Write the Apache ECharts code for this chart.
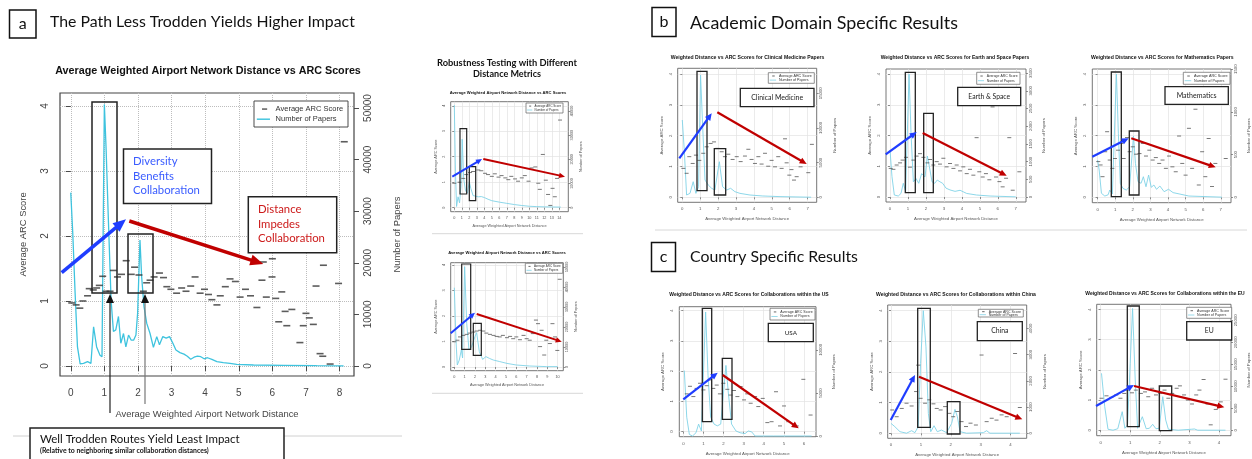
<!DOCTYPE html>
<html><head><meta charset="utf-8">
<script src="https://cdn.jsdelivr.net/npm/echarts@6/dist/echarts.min.js"></script>
<style>html,body{margin:0;padding:0;background:#fff}#c{width:1252px;height:459px}</style>
</head><body><div id="c"></div>
<script>
// ---------------- DATA ----------------
// Panel a (main chart)
const mainArcDist = [0.03,0.16,0.27,0.36,0.5,0.55,0.67,0.77,0.85,0.95,1.05,1.17,1.27,1.39,1.51,1.65,1.8,1.9,2.03,2.16,2.26,2.36,2.48,2.64,2.76,2.86,2.98,3.15,3.3,3.43,3.57,3.7,3.85,3.98,4.1,4.2,4.35,4.45,4.6,4.74,4.9,5.04,5.2,5.35,5.54,5.69,5.73,5.82,5.99,6.0,6.1,6.19,6.28,6.38,6.43,6.58,6.82,6.92,7.0,7.1,7.22,7.3,7.42,7.5,7.52,7.72,7.97,8.14];
const mainArcScore = [0.97,0.94,0.89,1.0,1.08,1.19,1.17,1.2,1.24,1.38,1.15,1.15,1.47,1.37,1.41,1.62,1.41,1.52,1.4,1.15,1.28,1.32,1.37,1.43,1.36,1.22,1.18,1.12,1.2,1.15,1.23,1.37,1.12,1.18,1.1,1.02,0.94,1.08,1.22,1.34,1.3,1.06,1.18,1.08,0.9,1.32,1.6,1.06,1.37,1.65,1.04,0.68,1.14,0.84,0.62,0.87,0.36,0.62,0.81,0.74,0.64,1.23,0.19,0.15,1.55,0.03,1.27,3.45];
const mainPapDist = [0,0.06,0.13,0.2,0.28,0.38,0.5,0.6,0.68,0.77,0.87,0.93,1.0,1.05,1.12,1.2,1.27,1.34,1.42,1.49,1.57,1.64,1.72,1.8,1.87,1.94,1.99,2.06,2.11,2.18,2.26,2.36,2.46,2.56,2.64,2.74,2.84,2.94,3.04,3.13,3.25,3.37,3.47,3.57,3.67,3.77,3.87,3.97,4.07,4.2,4.35,4.54,4.74,4.94,5.44,6.33,7.32,8.12];
const mainPapCount = [33600,25700,14100,3700,400,500,840,500,7600,3700,2100,1800,50700,42500,28300,12800,6700,7000,9600,4400,6300,3700,6000,5000,5000,6000,10200,24400,17300,11500,8300,6300,3600,5700,4100,5700,5400,5700,4400,3100,2600,2300,1900,1300,1700,1900,1800,1400,1600,1300,840,650,520,320,190,130,60,20];

// Robustness (top)
const rtArcDist = [0,0.7,1.2,1.6,2.1,2.5,3.2,3.6,4.1,4.5,5.0,5.4,5.9,6.3,6.8,7.2,7.6,8.1,8.5,9.0,9.4,9.9,10.3,10.8,11.2,11.4,11.8,12.2,12.5,12.8,13.1,13.4,13.7,14.1];
const rtArcScore = [0.96,1.0,1.15,1.3,1.38,1.42,1.48,1.45,1.35,1.3,1.23,1.33,1.2,1.26,1.17,1.1,1.23,1.13,1.04,1.17,1.26,1.04,1.56,1.6,0.96,0.72,2.09,1.08,0.52,0.09,0.76,0.43,1.15,3.44];
const rtPapDist = [0,0.15,0.3,0.5,0.7,0.9,1.05,1.25,1.5,1.75,2.0,2.2,2.5,2.8,3.2,3.6,4.0,4.5,5.0,6.0,7.0,8.0,9.0,10.0,11.0,12.0,13.0,14.2];
const rtPapCount = [42400,15000,500,4500,2000,9000,28300,12000,7000,6000,10700,8000,5000,4800,4500,4600,4200,3500,2900,2300,1800,1300,900,600,450,350,300,250];

// Robustness (bottom)
const rbArcDist = [0,0.3,0.55,0.87,1.2,1.5,1.84,2.16,2.5,2.8,3.1,3.45,3.8,4.1,4.4,4.7,5.1,5.4,5.7,6.0,6.35,6.7,7.0,7.3,7.6,7.9,8.1,8.3,8.45,8.7,8.9,9.25,9.5,9.75,9.97,10.2];
const rbArcScore = [0.99,1.05,1.18,1.24,1.28,1.33,1.37,1.41,1.44,1.41,1.33,1.28,1.24,1.2,1.18,1.24,1.15,1.2,1.11,1.18,1.07,1.24,1.11,1.05,1.31,1.84,1.7,0.8,1.44,0.47,1.05,0.92,1.7,1.18,0.65,3.44];
const rbPapDist = [0,0.16,0.29,0.48,0.68,0.8,1.0,1.2,1.42,1.68,2.0,2.16,2.42,2.74,3.06,3.4,3.77,4.4,5.1,6.0,7.3,8.9,10.0];
const rbPapCount = [39650,13500,1000,3500,8500,4500,50150,21800,8500,10200,15200,17200,7700,3800,5200,4300,3500,2700,1800,1000,500,200,200];

// b: Clinical Medicine
const cmArcDist = [0.06,0.24,0.39,0.58,0.76,0.95,1.17,1.36,1.58,1.77,1.96,2.2,2.38,2.57,2.81,3.04,3.26,3.5,3.69,3.87,4.06,4.25,4.43,4.62,4.8,4.99,5.18,5.36,5.55,5.74,5.83,5.98,6.1,6.24,6.39,6.61,7.04,7.24];
const cmArcScore = [0.94,0.78,1.32,1.1,1.37,1.2,1.43,1.64,1.75,1.8,1.59,1.48,1.32,1.4,1.23,1.32,1.16,1.34,1.56,1.23,1.1,1.32,1.08,1.43,1.01,1.2,0.99,1.32,0.94,1.9,1.12,0.72,0.9,0.56,0.67,0.99,0.8,1.72];
const cmPapDist = [0,0.11,0.24,0.43,0.61,0.76,0.91,1.02,1.14,1.27,1.45,1.64,1.82,2.07,2.25,2.48,2.7,2.94,3.22,3.78,4.5,5.46,7.2];
const cmPapCount = [11140,6800,330,570,2250,570,1530,17600,10170,2490,1770,1300,1050,5130,1530,1050,1300,810,570,330,190,100,10];

// b: Earth & Space
const esArcDist = [0.04,0.19,0.37,0.56,0.7,0.89,1.11,1.3,1.48,1.67,1.86,2.08,2.23,2.41,2.6,2.78,2.97,3.15,3.34,3.53,3.71,3.9,4.08,4.27,4.45,4.64,4.82,4.97,5.16,5.34,5.53,5.71,5.9,6.09,6.27,6.46,6.64,6.83,7.2];
const esArcScore = [0.93,0.9,1.04,1.11,1.2,1.29,0.97,1.2,1.33,1.41,1.29,1.11,1.22,1.04,1.15,1.07,1.26,0.98,1.09,0.93,1.04,0.85,0.98,0.76,0.9,0.71,1.93,0.82,0.65,0.76,0.56,2.93,0.65,0.5,0.33,0.61,1.93,0.22,0.82];
const esPapDist = [0,0.11,0.24,0.46,0.61,0.74,0.87,1.06,1.17,1.3,1.45,1.6,1.76,1.95,2.08,2.19,2.34,2.49,2.63,2.78,2.93,3.12,3.34,3.62,3.9,4.27,4.82,5.57,7.0];
const esPapCount = [1330,575,56,28,100,387,160,3474,1800,430,520,387,660,570,1158,860,430,387,480,430,387,250,200,160,190,100,56,28,5];

// b: Mathematics
const maArcDist = [0.04,0.17,0.28,0.43,0.54,0.69,0.84,0.99,1.16,1.35,1.48,1.67,1.82,2.0,2.19,2.38,2.57,2.75,2.94,3.13,3.31,3.5,3.69,3.88,4.06,4.25,4.44,4.63,4.81,5.0,5.19,5.37,5.56,5.75,5.94,6.12,6.31,6.5,6.69,7.28];
const maArcScore = [1.16,1.05,0.67,1.48,2.13,1.21,0.94,1.26,1.53,1.75,1.26,1.94,1.48,1.64,1.4,1.42,1.75,1.34,1.53,1.21,1.29,1.1,1.21,0.94,1.34,0.99,0.83,1.99,1.1,0.72,2.24,0.94,2.86,0.4,1.48,0.67,1.91,0.35,1.1,1.26];
const maPapDist = [0,0.09,0.22,0.41,0.6,0.69,0.84,1.07,1.18,1.29,1.44,1.63,1.82,2.04,2.15,2.3,2.47,2.6,2.75,2.9,3.05,3.2,3.35,3.54,3.78,4.03,4.29,4.63,5.19,7.06];
const maPapCount = [437,320,47,15,30,85,40,1444,750,164,105,85,124,718,398,183,164,241,124,261,117,144,94,132,66,94,55,40,15,2];

// c: USA
const usArcDist = [0.17,0.33,0.5,0.66,0.83,1.0,1.16,1.33,1.49,1.66,1.82,1.99,2.19,2.35,2.52,2.69,2.85,3.02,3.18,3.35,3.57,3.73,3.95,4.18,4.39,4.61,4.81,5.01,5.22,5.64,5.97,6.33];
const usArcScore = [1.25,1.5,1.16,1.43,1.6,1.38,1.52,1.71,1.43,1.54,1.25,1.6,1.4,1.21,1.36,1.16,1.49,1.05,1.25,0.94,1.16,0.83,1.1,0.3,0.33,1.32,0.19,0.85,0.33,0.19,1.73,0.55];
const usPapDist = [0.05,0.17,0.3,0.46,0.63,0.76,0.9,1.11,1.23,1.36,1.53,1.69,1.86,2.12,2.24,2.4,2.62,2.82,3.07,3.23,3.4,3.57,4.48,6.38];
const usPapCount = [7600,2200,200,20,400,1400,600,14390,7000,2200,1400,1200,1400,8200,5000,1400,600,400,300,600,500,20,20,20];

// c: China
const cnArcDist = [0.04,0.19,0.36,0.52,0.69,0.84,0.91,0.99,1.14,1.28,1.42,1.53,1.66,1.81,1.95,2.08,2.22,2.36,2.51,2.66,2.84,3.03,3.2,3.37,3.53,3.7,3.87,4.15,4.31];
const cnArcScore = [0.76,0.54,0.81,0.98,0.89,1.36,2.22,1.14,0.98,1.09,0.96,0.81,0.76,0.87,0.65,0.54,0.71,0.38,0.22,0.33,0.27,2.55,0.38,0.49,0.43,0.6,0.54,2.6,0.84];
const cnPapDist = [0,0.13,0.3,0.52,0.69,0.8,0.91,0.99,1.08,1.17,1.25,1.33,1.44,1.55,1.69,1.86,2.03,2.14,2.22,2.31,2.53,3.09,3.2,3.31,4.31];
const cnPapCount = [380,253,62,5,100,25,253,2670,4680,3300,760,62,290,62,125,25,380,915,636,62,5,25,100,5,5];

// c: EU
const euArcDist = [0.03,0.2,0.36,0.53,0.67,0.8,0.91,1.06,1.19,1.36,1.5,1.61,1.74,1.87,2.02,2.16,2.29,2.42,2.57,2.68,2.82,2.95,3.09,3.23,3.34,3.48,3.61,3.72,3.89,4.06,4.22];
const euArcScore = [1.06,1.14,1.09,1.17,1.06,1.22,1.33,1.24,1.33,1.22,1.27,1.11,1.39,1.17,1.22,1.33,1.06,1.22,1.39,1.47,1.17,1.0,0.87,1.17,1.33,1.68,0.87,0.18,0.69,0.94,1.69];
const euPapDist = [0.03,0.14,0.25,0.42,0.58,0.73,0.82,0.91,1.0,1.08,1.17,1.25,1.41,1.54,1.65,1.76,1.87,1.98,2.1,2.2,2.29,2.62,3.06,3.17,3.28,4.22];
const euPapCount = [12950,5360,230,20,350,4230,460,1200,15200,27700,11430,460,3090,350,460,1360,350,460,7640,2340,230,20,230,300,20,20];

// Tick labels
const ticks0to4 = [0,1,2,3,4];
const ticks0to6 = [0,1,2,3,4,5,6];
const ticks0to7 = [0,1,2,3,4,5,6,7];
const ticks0to8 = [0,1,2,3,4,5,6,7,8];
const ticks0to10 = [0,1,2,3,4,5,6,7,8,9,10];
const ticks0to14 = [0,1,2,3,4,5,6,7,8,9,10,11,12,13,14];
const papTicksMain = [0,10000,20000,30000,40000,50000];
const papTicksRT = [0,10000,20000,30000,40000];
const papTicksRB = [0,10000,20000,30000,40000,50000];
const papTicksCM = [0,5000,10000,15000];
const papTicksES = [0,500,1000,1500,2000,2500,3000,3500];
const papTicksMA = [0,500,1000,1500];
const papTicksUS = [0,5000,10000];
const papTicksCN = [0,1000,2000,3000,4000];
const papTicksEU = [0,5000,10000,15000,20000,25000];

// ---------------- BUILD ----------------
const RF = '"Liberation Sans", Arial, sans-serif';
const CF = 'Lato, "Open Sans", sans-serif';
const mctx = document.createElement('canvas').getContext('2d');
function fit(text, fam, weight, w) { mctx.font = weight + ' 100px ' + fam; return 100 * w / mctx.measureText(text).width; }
const zip = (a, b) => a.map((v, i) => [v, b[i]]);
const plain = (v) => String(v);

const grids = [], xAxes = [], yAxes = [], series = [], graphics = [];
function addPlot(p) {
  const gi = grids.length;
  const [l, t, r, b] = p.box;
  grids.push({ left: l, top: t, width: r - l, height: b - t, show: true, borderColor: p.frame, borderWidth: p.frameW, backgroundColor: 'rgba(0,0,0,0)' });
  const lab = (extra) => Object.assign({ fontSize: p.fs, color: p.txt, fontFamily: RF }, extra);
  xAxes.push({
    type: 'value', gridIndex: gi, min: p.x[0], max: p.x[1], interval: 1,
    axisLine: { show: false },
    axisTick: { show: true, length: p.tick, customValues: p.xT, lineStyle: { color: p.frame, width: p.frameW * 0.8 } },
    axisLabel: lab({ customValues: p.xT, margin: p.xm, formatter: plain }),
    splitLine: { show: true, lineStyle: { color: p.gc, type: p.gt, width: p.gw } },
    name: 'Average Weighted Airport Network Distance', nameLocation: 'middle', nameGap: p.xg,
    nameTextStyle: lab({ fontSize: p.nfs })
  });
  yAxes.push({
    type: 'value', gridIndex: gi, position: 'left', min: p.y[0], max: p.y[1], interval: 1,
    axisLine: { show: false },
    axisTick: { show: true, length: p.tick, customValues: ticks0to4, lineStyle: { color: p.frame, width: p.frameW * 0.8 } },
    axisLabel: lab({ customValues: ticks0to4, rotate: 90, margin: p.ym, formatter: plain }),
    splitLine: { show: true, lineStyle: { color: p.gc, type: p.gt, width: p.gw } },
    name: 'Average ARC Score', nameLocation: 'middle', nameRotate: 90, nameGap: p.yg,
    nameTextStyle: lab({ fontSize: p.nfs })
  });
  yAxes.push({
    type: 'value', gridIndex: gi, position: 'right', min: p.y2[0], max: p.y2[1], interval: p.y2T[1],
    axisLine: { show: false },
    axisTick: { show: true, length: p.tick, customValues: p.y2T, lineStyle: { color: p.frame, width: p.frameW * 0.8 } },
    axisLabel: lab({ customValues: p.y2T, rotate: 90, margin: p.y2m, formatter: plain }),
    splitLine: { show: false },
    name: 'Number of Papers', nameLocation: 'middle', nameRotate: 90, nameGap: p.y2g,
    nameTextStyle: lab({ fontSize: p.nfs })
  });
  series.push({
    type: 'line', xAxisIndex: gi, yAxisIndex: 2 * gi + 1, data: zip(p.pd, p.pc), showSymbol: false, symbol: 'none',
    lineStyle: { color: p.lc, width: p.lw }, silent: true, z: 2, animation: false
  });
  series.push({
    type: 'scatter', xAxisIndex: gi, yAxisIndex: 2 * gi, data: zip(p.ad, p.as), symbol: 'rect', symbolSize: p.dash,
    itemStyle: { color: p.dc }, silent: true, z: 3, animation: false
  });
  txt(p.title[1], p.title[2], p.title[0], { fam: RF, weight: 'bold', w: p.title[3], align: 'center', color: '#111' });
  const [lx1, ly1, lx2, ly2] = p.leg;
  rect(lx1, ly1, lx2 - lx1, ly2 - ly1, '#fff', p.frame, p.frameW * 0.8, 100);
  const h = ly2 - ly1, row1 = ly1 + h * 0.31, row2 = ly1 + h * 0.7, tw = (lx2 - lx1);
  const lfs = fit('Average ARC Score', RF, 'normal', tw * 0.72);
  line(lx1 + tw * 0.085, row1, lx1 + tw * 0.14, row1, '#444', Math.max(0.8, h * 0.05), 101);
  line(lx1 + tw * 0.03, row2, lx1 + tw * 0.17, row2, p.lc, Math.max(0.8, h * 0.055), 101);
  txtS(lx1 + tw * 0.23, row1, 'Average ARC Score', lfs, RF, 'normal', '#333', 'left');
  txtS(lx1 + tw * 0.23, row2, 'Number of Papers', lfs, RF, 'normal', '#333', 'left');
  return gi;
}
function rect(x, y, w, h, fill, stroke, lw, z) {
  graphics.push({ type: 'rect', z: z || 100, shape: { x, y, width: w, height: h }, style: { fill: fill, stroke: stroke, lineWidth: lw } });
}
function line(x1, y1, x2, y2, color, w, z) {
  graphics.push({ type: 'line', z: z || 100, shape: { x1, y1, x2, y2 }, style: { stroke: color, lineWidth: w } });
}
function arrow(x1, y1, x2, y2, color, w, hl, hw) {
  const dx = x2 - x1, dy = y2 - y1, L = Math.hypot(dx, dy), ux = dx / L, uy = dy / L;
  const bx = x2 - ux * hl, by = y2 - uy * hl;
  line(x1, y1, bx + ux * 1, by + uy * 1, color, w, 110);
  graphics.push({ type: 'polygon', z: 111, shape: { points: [[x2, y2], [bx - uy * hw / 2, by + ux * hw / 2], [bx + uy * hw / 2, by - ux * hw / 2]] }, style: { fill: color } });
}
function txtS(x, y, text, size, fam, weight, color, align) {
  graphics.push({ type: 'text', z: 120, x, y, style: { text, fontSize: size, fontFamily: fam, fontWeight: weight, fill: color, align: align, textAlign: align, verticalAlign: 'middle', textVerticalAlign: 'middle' } });
}
function txt(x, y, text, o) {
  const size = o.size || fit(text, o.fam, o.weight || 'normal', o.w);
  txtS(x, y, text, size, o.fam, o.weight || 'normal', o.color || '#111', o.align || 'left');
  return size;
}
function labelBox(x1, y1, x2, y2, text, tw) {
  rect(x1, y1, x2 - x1, y2 - y1, '#fff', '#222', 1.3, 105);
  txt((x1 + x2) / 2, (y1 + y2) / 2, text, { fam: CF, w: tw, align: 'center', color: '#222' });
}
function box(x1, y1, x2, y2, lw) { rect(x1, y1, x2 - x1, y2 - y1, 'rgba(0,0,0,0)', '#222', lw || 1.3, 104); }

// ---- plots ----
const MAIN = {
  box: [60, 93, 354, 376], x: [-0.32, 8.43], xT: ticks0to8, y: [-0.154, 4.2], y2: [-1938, 52907], y2T: papTicksMain,
  fs: 10, nfs: 9.4, txt: '#444', tick: 5, xm: 12, ym: 10, y2m: 9, xg: 34, yg: 32, y2g: 39,
  frame: '#444', frameW: 1.2, gc: '#bdbdbd', gt: 'dotted', gw: 1,
  pd: mainPapDist, pc: mainPapCount, ad: mainArcDist, as: mainArcScore, dash: [7, 1.6], dc: '#333', lc: '#3ec3de', lw: 1.3,
  title: ['Average Weighted Airport Network Distance vs ARC Scores', 208, 71, 306], leg: [254, 101, 348, 127]
};
function small(o) {
  return Object.assign({
    fs: 4.3, nfs: 4.3, txt: '#555', tick: 2, xm: 5, ym: 5, y2m: 2.5, xg: 15, yg: 14, y2g: 16,
    frame: '#666', frameW: 0.9, gc: '#e2e2e2', gt: 'solid', gw: 0.7, dash: [4, 1], dc: '#555', lc: '#80d2e6', lw: 0.9
  }, o);
}
const PLOTS = [
  MAIN,
  small({ box: [450.7, 101.7, 568.3, 211.7], x: [-0.48, 15.2], xT: ticks0to14, y: [-0.157, 4.16], y2: [-1650, 43800], y2T: papTicksRT,
    pd: rtPapDist, pc: rtPapCount, ad: rtArcDist, as: rtArcScore, fs: 3.8, nfs: 3.8, xm: 4, ym: 4.5, y2m: 1.5, xg: 12, yg: 13, y2g: 11,
    title: ['Average Weighted Airport Network Distance vs ARC Scores', 508, 92.7, 117], leg: [526, 103, 563, 113] }),
  small({ box: [450.7, 262.7, 563.3, 370.7], x: [-0.35, 10.55], xT: ticks0to10, y: [-0.145, 4.09], y2: [-1850, 52150], y2T: papTicksRB,
    pd: rbPapDist, pc: rbPapCount, ad: rbArcDist, as: rbArcScore, fs: 3.8, nfs: 3.8, xm: 4, ym: 4.5, y2m: 1.5, xg: 12, yg: 13, y2g: 11,
    title: ['Average Weighted Airport Network Distance vs ARC Scores', 507, 252.7, 118], leg: [525.3, 263.3, 562.7, 273.3] }),
  small({ box: [677.7, 68.3, 816.7, 202.3], x: [-0.257, 7.51], xT: ticks0to7, y: [-0.162, 4.19], y2: [-720, 18590], y2T: papTicksCM,
    pd: cmPapDist, pc: cmPapCount, ad: cmArcDist, as: cmArcScore,
    title: ['Weighted Distance vs ARC Scores for Clinical Medicine Papers', 747.5, 58, 154], leg: [768.3, 72.7, 814.3, 83.3] }),
  small({ box: [886, 69, 1026, 202], x: [-0.223, 7.57], xT: ticks0to7, y: [-0.163, 4.163], y2: [-141, 3616], y2T: papTicksES,
    pd: esPapDist, pc: esPapCount, ad: esArcDist, as: esArcScore,
    title: ['Weighted Distance vs ARC Scores for Earth and Space Papers', 955, 57.3, 149], leg: [976.7, 72.3, 1020, 84.3] }),
  small({ box: [1092.3, 69, 1232.7, 202.7], x: [-0.30, 7.58], xT: ticks0to7, y: [-0.175, 4.166], y2: [-63, 1502], y2T: papTicksMA,
    pd: maPapDist, pc: maPapCount, ad: maArcDist, as: maArcScore,
    title: ['Weighted Distance vs ARC Scores for Mathematics Papers', 1162.3, 57.3, 143], leg: [1183.3, 72.3, 1230, 84.3] }),
  small({ box: [679.3, 306.7, 816, 436.7], x: [-0.2, 6.6], xT: ticks0to6, y: [-0.166, 4.13], y2: [-60, 15000], y2T: papTicksUS,
    pd: usPapDist, pc: usPapCount, ad: usArcDist, as: usArcScore,
    title: ['Weighted Distance vs ARC Scores for Collaborations within the US', 749, 295, 160], leg: [770, 308.3, 815, 320] }),
  small({ box: [887.7, 305, 1026.7, 438.3], x: [-0.11, 4.54], xT: ticks0to4, y: [-0.163, 4.18], y2: [-190, 4897], y2T: papTicksCN,
    pd: cnPapDist, pc: cnPapCount, ad: cnArcDist, as: cnArcScore,
    title: ['Weighted Distance vs ARC Scores for Collaborations within China', 956, 295, 160], leg: [978.3, 309.3, 1023.3, 317] }),
  small({ box: [1096.7, 304.3, 1234, 435.7], x: [-0.132, 4.406], xT: ticks0to4, y: [-0.18, 4.17], y2: [-1230, 28640], y2T: papTicksEU,
    pd: euPapDist, pc: euPapCount, ad: euArcDist, as: euArcScore,
    title: ['Weighted Distance vs ARC Scores for Collaborations within the EU', 1165, 294, 160], leg: [1186.7, 307.3, 1231.7, 318.3] })
];
PLOTS.forEach(addPlot);

// ---- panel headers ----
function panelLetter(x1, y1, x2, y2, ch) {
  rect(x1, y1, x2 - x1, y2 - y1, '#fff', '#111', 1.5, 100);
  txtS((x1 + x2) / 2, (y1 + y2) / 2, ch, 16, CF, 'normal', '#111', 'center');
}
panelLetter(9.5, 10, 36, 38, 'a');
txt(50, 22, 'The Path Less Trodden Yields Higher Impact', { fam: CF, w: 305 });
panelLetter(652, 7.5, 676, 36.5, 'b');
txt(690, 23, 'Academic Domain Specific Results', { fam: CF, w: 268 });
panelLetter(651.5, 242.5, 675.5, 271.5, 'c');
txt(690, 257, 'Country Specific Results', { fam: CF, w: 168 });
txt(507, 63, 'Robustness Testing with Different', { fam: CF, weight: 'bold', w: 140, align: 'center' });
txt(507, 74.5, 'Distance Metrics', { fam: CF, weight: 'bold', w: 68, align: 'center' });

// separators
line(13, 436, 402, 436, '#d0d0d0', 1, 90);
line(432, 233.7, 583, 233.7, '#d8d8d8', 1, 90);
line(432, 393.3, 583, 393.3, '#d8d8d8', 1, 90);
line(655, 230, 1247, 230, '#d8d8d8', 1, 90);

// ---- panel a annotations ----
box(92, 102, 117, 293, 1.5);
box(128, 234, 153, 293, 1.5);
arrow(61.7, 272.7, 126, 219.3, '#1f3dff', 3.5, 13, 11);
arrow(129.3, 221, 263.3, 264, '#c00000', 3.5, 13, 11);
rect(123.5, 149, 88, 54.5, '#fff', '#222', 1.5, 105);
const dsz = fit('Collaboration', CF, 'normal', 67);
txtS(133, 161.7, 'Diversity', dsz, CF, 'normal', '#3a5cff', 'left');
txtS(133, 176.2, 'Benefits', dsz, CF, 'normal', '#3a5cff', 'left');
txtS(133, 190.8, 'Collaboration', dsz, CF, 'normal', '#3a5cff', 'left');
rect(248.3, 196.7, 88.4, 56, '#fff', '#222', 1.5, 105);
txtS(258, 209.3, 'Distance', dsz, CF, 'normal', '#cc1a1a', 'left');
txtS(258, 224, 'Impedes', dsz, CF, 'normal', '#cc1a1a', 'left');
txtS(258, 238.3, 'Collaboration', dsz, CF, 'normal', '#cc1a1a', 'left');
line(110, 413, 110, 302, '#222', 1.2, 106);
line(145, 404, 145, 302, '#777', 1.2, 106);
graphics.push({ type: 'polygon', z: 107, shape: { points: [[110, 294], [106, 303], [114, 303]] }, style: { fill: '#111' } });
graphics.push({ type: 'polygon', z: 107, shape: { points: [[145, 294], [141, 303], [149, 303]] }, style: { fill: '#111' } });
rect(30, 428, 254, 40, '#fff', '#222', 1.5, 105);
txt(40, 439.5, 'Well Trodden Routes Yield Least Impact', { fam: CF, w: 200 });
txt(40, 451, '(Relative to neighboring similar collaboration distances)', { fam: CF, weight: 'bold', w: 169 });

// ---- robustness annotations ----
box(460, 128.7, 466.7, 194, 1.2); box(469.3, 166.7, 475.7, 200.7, 1.2);
arrow(452.3, 176.7, 482, 159, '#1f3dff', 2, 6, 5.5); arrow(483.3, 159, 565, 176.7, '#c00000', 2, 6, 5.5);
box(461.7, 264, 470.7, 349.3, 1.2); box(473.3, 323.3, 481.3, 355.3, 1.2);
arrow(450.7, 333.3, 475, 312.7, '#1f3dff', 2, 6, 5.5); arrow(476.7, 314, 561.7, 341.7, '#c00000', 2, 6, 5.5);

// ---- panel b annotations ----
box(697, 71.3, 707, 190.7); box(714.3, 148.7, 725.7, 195);
arrow(679.3, 158.3, 711.7, 113.3, '#1f3dff', 2.2, 7, 6.5); arrow(717.3, 112.3, 806.7, 164, '#c00000', 2.2, 7, 6.5);
labelBox(740.3, 88.3, 814, 106.7, 'Clinical Medicine', 52);
box(905.3, 72.3, 915.3, 192.7); box(923.7, 113.3, 933.3, 192.7);
arrow(885.7, 154.3, 916.7, 132, '#1f3dff', 2.2, 7, 6.5); arrow(922.7, 133, 1006.7, 175.7, '#c00000', 2.2, 7, 6.5);
labelBox(957.7, 87.3, 1020.7, 105.7, 'Earth & Space', 42);
box(1111.3, 72, 1121.3, 196.7); box(1129.3, 131, 1139, 195);
arrow(1092.3, 156.7, 1128.7, 138.3, '#1f3dff', 2.2, 7, 6.5); arrow(1131.3, 138.3, 1215.7, 167.3, '#c00000', 2.2, 7, 6.5);
labelBox(1165, 86.7, 1228.3, 104.3, 'Mathematics', 40);

// ---- panel c annotations ----
box(702.3, 308.3, 711.7, 421.7); box(722.3, 358.3, 732, 419.3);
arrow(683.3, 399.3, 717.7, 372.7, '#1f3dff', 2.2, 7, 6.5); arrow(722.7, 375, 798.7, 428.3, '#c00000', 2.2, 7, 6.5);
labelBox(768.3, 323.3, 813.3, 341.7, 'USA', 12.3);
box(917.7, 308.3, 930.3, 427.3); box(947.3, 401.7, 960, 434);
arrow(890.7, 420, 915, 375, '#1f3dff', 2.2, 7, 6.5); arrow(919, 376.7, 1022.3, 419.3, '#c00000', 2.2, 7, 6.5);
labelBox(977.3, 321.7, 1022.3, 340.7, 'China', 17.3);
box(1127.3, 306, 1139.3, 426.7); box(1159.3, 386, 1171.7, 430.7);
arrow(1096, 406, 1134, 385, '#1f3dff', 2.2, 7, 6.5); arrow(1134, 386, 1224.3, 407.3, '#c00000', 2.2, 7, 6.5);
labelBox(1186.7, 321.7, 1231.7, 340, 'EU', 9);

const chart = echarts.init(document.getElementById('c'), null, { renderer: 'canvas' });
chart.setOption({
  animation: false, backgroundColor: '#fff',
  grid: grids, xAxis: xAxes, yAxis: yAxes, series: series,
  graphic: { elements: graphics }
});
</script>
</body></html>
